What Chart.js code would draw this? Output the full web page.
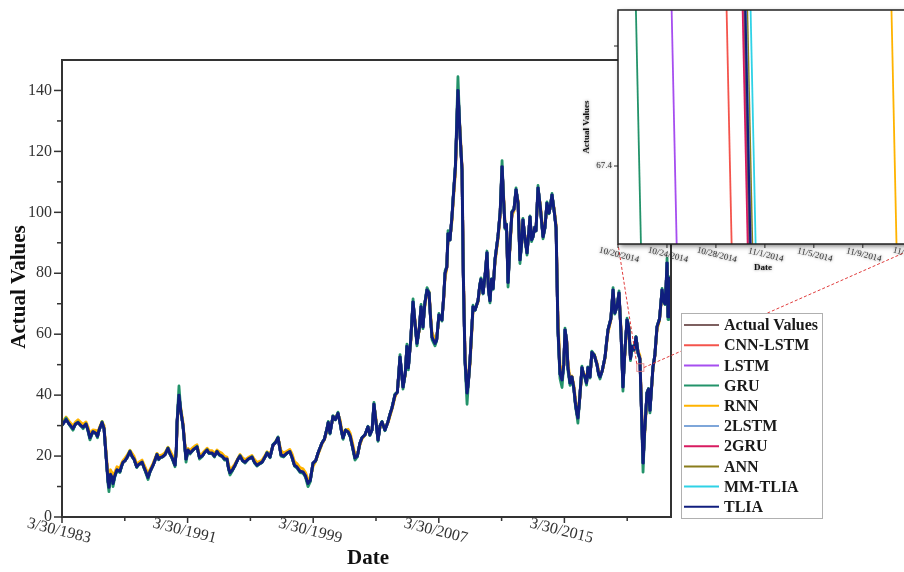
<!DOCTYPE html>
<html>
<head>
<meta charset="utf-8">
<script src="https://cdn.jsdelivr.net/npm/chart.js@4.4.1/dist/chart.umd.min.js"></script>
<style>
    html, body { margin: 0; padding: 0; background: #fff; overflow: hidden; }
    #stage { position: relative; width: 904px; height: 572px; overflow: hidden; }
    #mainChart { position: absolute; left: 0; top: 0; }
    #insetChart { position: absolute; left: 570px; top: 0; }
</style>
</head>
<body>
<div id="stage">
    <canvas id="mainChart" width="904" height="572"></canvas>
    <canvas id="insetChart" width="360" height="290"></canvas>
</div>
<script>
// Dates as decimal years (3/30/1983 = 1983.24)
const dates = [
    1983.25, 1983.5, 1983.7, 1983.94,
    1984.1, 1984.26, 1984.45, 1984.58, 1984.77, 1984.9,
    1985.02, 1985.21, 1985.4, 1985.5, 1985.6, 1985.79, 1985.92,
    1986.05, 1986.17, 1986.23, 1986.33, 1986.43, 1986.49, 1986.6, 1986.74, 1986.93,
    1987.05, 1987.13, 1987.25, 1987.38, 1987.57, 1987.7, 1987.83,
    1988.0, 1988.08, 1988.2, 1988.34, 1988.45, 1988.53, 1988.72, 1988.85,
    1989.04, 1989.15, 1989.29, 1989.4, 1989.48, 1989.65, 1989.8, 1989.99,
    1990.1, 1990.25, 1990.44, 1990.52, 1990.57, 1990.69, 1990.8, 1990.95,
    1991.05, 1991.14, 1991.27, 1991.4, 1991.58, 1991.7, 1991.84,
    1992.0, 1992.16, 1992.3, 1992.48, 1992.6, 1992.8, 1992.95,
    1993.11, 1993.25, 1993.43, 1993.6, 1993.75, 1993.85, 1993.94,
    1994.1, 1994.26, 1994.45, 1994.58, 1994.75, 1994.9,
    1995.1, 1995.34, 1995.5, 1995.66, 1995.8, 1995.98,
    1996.15, 1996.3, 1996.49, 1996.68, 1996.85,
    1997.0, 1997.19, 1997.35, 1997.57, 1997.75, 1997.89,
    1998.05, 1998.21, 1998.4, 1998.59, 1998.75, 1998.91,
    1999.05, 1999.23, 1999.4, 1999.55, 1999.7, 1999.8, 1999.95,
    2000.12, 2000.2, 2000.31, 2000.5, 2000.65, 2000.82, 2000.95,
    2001.05, 2001.14, 2001.3, 2001.46, 2001.6, 2001.75, 2001.9,
    2002.05, 2002.22, 2002.35, 2002.54, 2002.73, 2002.85, 2002.99,
    2003.11, 2003.2, 2003.37, 2003.5, 2003.62, 2003.81,
    2004.0, 2004.15, 2004.26, 2004.45, 2004.6, 2004.77, 2004.96,
    2005.1, 2005.21, 2005.3, 2005.45, 2005.6, 2005.72, 2005.85,
    2006.0, 2006.11, 2006.23, 2006.35, 2006.49, 2006.62, 2006.72, 2006.81,
    2007.0, 2007.1, 2007.25, 2007.44, 2007.55, 2007.64, 2007.75, 2007.83, 2007.95,
    2008.08, 2008.15, 2008.3, 2008.46, 2008.6, 2008.72, 2008.8, 2008.91,
    2009.04, 2009.12, 2009.23, 2009.42, 2009.55, 2009.74, 2009.85, 2009.93,
    2010.06, 2010.2, 2010.31, 2010.4, 2010.5, 2010.6, 2010.7, 2010.82,
    2011.01, 2011.15, 2011.27, 2011.36, 2011.46, 2011.55, 2011.65, 2011.78, 2011.9,
    2012.03, 2012.16, 2012.29, 2012.41, 2012.52, 2012.6, 2012.72, 2012.86,
    2013.05, 2013.15, 2013.24, 2013.35, 2013.43, 2013.56, 2013.7, 2013.88,
    2014.0, 2014.13, 2014.26, 2014.35, 2014.45, 2014.6, 2014.71, 2014.83, 2014.96,
    2015.09, 2015.2, 2015.28, 2015.38, 2015.47, 2015.6, 2015.72, 2015.85, 2015.95,
    2016.04, 2016.1, 2016.2, 2016.36, 2016.45, 2016.55, 2016.65, 2016.74, 2016.87, 2016.99,
    2017.15, 2017.32, 2017.42, 2017.51, 2017.65, 2017.83, 2017.92,
    2018.02, 2018.2, 2018.34, 2018.45, 2018.59, 2018.72, 2018.85, 2018.97,
    2019.1, 2019.23, 2019.35, 2019.45, 2019.55, 2019.68, 2019.8, 2019.93,
    2020.05, 2020.15, 2020.25, 2020.35, 2020.5, 2020.6, 2020.69, 2020.8, 2020.88,
    2021.0, 2021.14, 2021.3, 2021.46, 2021.55, 2021.65, 2021.72, 2021.78, 2021.84, 2021.9, 2021.97
];

const actualValues = [
    30.2, 32, 30.5, 29,
    30.5, 31, 30, 29.5, 30.5, 28.5,
    26, 28, 27.5, 26.5, 28.5, 31, 29,
    20, 12, 9.8, 14, 13, 11, 13.5, 15.5, 15,
    17, 18, 18.5, 19.5, 21.5, 20, 19,
    16.5, 17, 17.5, 18, 16.5, 15.5, 13, 15,
    17, 18.5, 20.5, 19, 19.5, 19.8, 20.5, 22.5,
    21, 19.5, 17, 22, 31, 40, 35, 30,
    24, 19, 22, 21, 22, 22.5, 23,
    19.5, 20, 21, 22, 21, 21, 20,
    21.5, 20.5, 20, 19, 19, 16, 14.5,
    15.5, 17, 19, 20, 18.5, 18,
    19, 19.7, 18, 17, 17.5, 18,
    19.5, 21, 19.7, 23.6, 24.5,
    26, 20.4, 20, 21, 21.5, 19.7,
    17, 16.4, 15, 14.8, 13.5, 11,
    12, 17.7, 18.5, 21, 23, 24.3, 25.5,
    29, 31, 27.6, 33, 32, 34, 31,
    28, 26, 28.5, 28, 26.5, 23, 19.4,
    20, 24.3, 26, 27, 29.6, 27, 28.6,
    37, 33, 25.3, 30, 31.2, 28.6,
    31.2, 34, 35.8, 40, 41, 52.5, 42.7,
    47, 56, 49, 58, 70.6, 64, 57,
    62, 69, 62.4, 70, 74.5, 73.5, 65, 59,
    57, 58, 66.3, 64.7, 72, 80, 82, 93, 91,
    98.5, 104, 115, 140, 125, 114, 80, 51.6,
    40.7, 44, 51.6, 69, 68, 71, 76, 78,
    73.5, 80, 86.7, 75, 71, 78, 75, 84.4,
    92, 100, 115, 105, 95, 96, 77, 90, 100,
    101, 107.4, 103, 84.4, 90, 97.5, 92, 86.7,
    98.5, 91, 92, 95, 94, 108, 102, 92,
    95, 103, 99.8, 102, 105.7, 100, 95, 62, 47,
    45, 50, 61.4, 58, 49, 44, 46, 42, 37,
    34, 32.5, 38, 49, 47, 46, 44, 49, 46, 54,
    53, 50, 47, 46, 48, 52.5, 57,
    61.4, 65, 74.5, 67, 69, 73.5, 60, 42.7,
    55, 64.7, 62, 52, 56, 55, 59, 54,
    52, 35, 17.7, 28, 40.7, 42, 35, 43, 49,
    53, 62.4, 65, 74.5, 71, 70, 76, 83.4, 65.7, 72, 78.8
];

const gruValues = [
    30, 32.5, 30.3, 28.5,
    30.5, 31.2, 29.8, 29, 30.6, 28,
    25.3, 28, 27.3, 26, 28.5, 31.3, 28.8,
    19.5, 11, 8.3, 13.5, 12.3, 10, 13, 15.3, 14.6,
    16.8, 17.9, 18.4, 19.5, 21.7, 19.8, 18.8,
    16.2, 16.8, 17.4, 18, 16.2, 15.2, 12.3, 14.8,
    16.9, 18.4, 20.6, 18.8, 19.4, 19.7, 20.5, 22.7,
    20.8, 19.2, 16.5, 22, 31.5, 43, 35.5, 29.5,
    23.5, 18, 21.8, 20.7, 21.9, 22.5, 23.2,
    19, 19.8, 21, 22.1, 20.8, 20.8, 19.7,
    21.6, 20.3, 19.8, 18.7, 18.8, 15.6, 13.8,
    15.2, 16.8, 19, 20.2, 18.3, 17.7,
    18.9, 19.8, 17.7, 16.7, 17.3, 17.9,
    19.4, 21.2, 19.4, 23.8, 24.7,
    26.3, 20, 19.7, 20.9, 21.5, 19.4,
    16.7, 16, 14.6, 14.4, 13, 10,
    11.5, 17.6, 18.4, 21, 23.1, 24.4, 25.6,
    29.2, 31.4, 27.2, 33.3, 31.8, 34.4, 30.7,
    27.7, 25.5, 28.6, 27.8, 26.2, 22.6, 18.7,
    19.7, 24.4, 26.1, 27, 29.8, 26.7, 28.6,
    37.6, 33, 24.8, 30, 31.4, 28.3,
    31.3, 34.2, 36, 40.4, 41, 53.3, 42,
    46.8, 56.7, 48.3, 58.2, 71.6, 63.5, 56.2,
    62, 69.8, 61.8, 70.3, 75.3, 73.8, 64.5, 58.2,
    56.2, 57.8, 66.8, 64.3, 72.3, 80.8, 82.3, 94, 90.8,
    98.8, 104.8, 116, 144.5, 125, 113.5, 79, 50.5,
    37, 43.5, 51.4, 69.5, 67.8, 71.2, 76.3, 78.5,
    73.2, 80.2, 87.3, 74.5, 70.3, 78.2, 74.7, 84.8,
    92.3, 100.5, 117, 104.6, 94.5, 96.2, 75.5, 90.2, 100.4,
    101.2, 108, 102.8, 83.2, 90, 98, 91.8, 86,
    98.8, 90.4, 91.8, 95.2, 93.8, 108.8, 101.7, 91.3,
    94.7, 103.4, 99.5, 102.2, 106.2, 99.8, 94.5, 60.5, 45.5,
    42.5, 50, 62, 57.7, 47.8, 43.2, 46, 41.3, 36.2,
    33.2, 30.8, 37.8, 49.5, 46.7, 45.6, 43.3, 49.3, 45.6, 54.4,
    53.2, 49.7, 46.5, 45.3, 48, 52.7, 57.3,
    61.7, 65.2, 75.3, 66.6, 69.2, 74.2, 59.5, 41.3,
    55, 65.3, 62, 51.3, 56.2, 54.6, 59.3, 53.6,
    51.7, 34, 14.7, 27.5, 41, 42.2, 34.2, 43, 49.3,
    53.2, 62.7, 65.2, 75, 70.7, 69.7, 76.5, 85, 64.8, 72.2, 79.3
];

const rnnValues = [
    31, 32.8, 31.4, 29.9,
    31.2, 31.9, 31, 30.4, 31.2, 29.5,
    27.2, 28.6, 28.4, 27.4, 29, 31.4, 30,
    21.5, 13.8, 12.5, 15.5, 14.5, 13, 14.6, 16.5, 16,
    17.8, 18.6, 19.3, 20.2, 21.9, 20.9, 19.9,
    17.4, 17.6, 18.2, 18.7, 17.4, 16.5, 14.2, 15.6,
    17.6, 19, 20.9, 20, 20.2, 20.5, 21.1, 22.9,
    22, 20.5, 18.2, 21, 29.5, 38.5, 36, 31,
    25, 20.3, 22.5, 21.9, 22.8, 23.3, 23.7,
    20.4, 20.7, 21.6, 22.6, 21.9, 21.8, 20.9,
    22, 21.4, 20.9, 19.9, 19.7, 17.2, 15.6,
    16.3, 17.5, 19.3, 20.5, 19.4, 18.8,
    19.5, 20.2, 18.9, 17.9, 18.2, 18.6,
    20, 21.4, 20.6, 23.4, 24.9,
    26.1, 21.8, 21, 21.6, 22.2, 20.8,
    18.2, 17.5, 16.2, 15.8, 14.6, 12.4,
    12.5, 16.5, 18.3, 20.5, 22.5, 23.9, 25.3,
    28.4, 30.5, 28.6, 32.4, 32.8, 33.7, 32,
    29, 27.2, 28.6, 28.8, 27.5, 24.3, 20.6,
    20.6, 23.7, 25.6, 26.9, 29.2, 27.9, 28.8,
    36, 34, 26.6, 29.4, 31, 29.3,
    30.8, 33.4, 35.3, 39.3, 41.3, 51, 44,
    46.2, 54.8, 50.5, 57, 69, 65, 58.5,
    61, 68, 63.7, 69, 74, 74, 66.5, 60.5,
    58.3, 58.4, 65, 65.5, 71, 78.5, 81.5, 91.2, 91.5,
    97, 102.5, 113, 137, 127, 115, 83, 54,
    42.5, 44.5, 50, 67.5, 68.3, 70.5, 75.2, 77.4,
    74.5, 79, 85.5, 76.5, 72.3, 77.2, 75.8, 83.3,
    91, 98.8, 113, 106.5, 96.5, 95.8, 79, 88.6, 99,
    100.5, 106.3, 104, 86, 89.3, 96.6, 92.6, 87.5,
    97.6, 92, 92.2, 94.6, 94.4, 106.5, 103, 93.4,
    95.6, 102, 100.5, 101.6, 105, 101, 96, 66, 50,
    47, 49.4, 60, 58.6, 50.5, 45.2, 46.3, 43, 38.6,
    35.5, 34, 37.5, 48, 47.5, 46.6, 45, 48.3, 46.6, 53,
    53.4, 50.6, 48, 46.8, 47.7, 52, 56.3,
    60.5, 64.5, 73.3, 68, 68.8, 72.8, 61.8, 45,
    53.5, 63.5, 62.6, 53.4, 55.5, 55.4, 58.5, 54.6,
    53, 37.5, 20.5, 26.5, 39.5, 42, 36.2, 42.3, 48.4,
    52.6, 61.4, 64.6, 73.5, 71.6, 70.4, 75.2, 81.8, 67.3, 71.6, 78
];

const seriesNames = ['Actual Values', 'CNN-LSTM', 'LSTM', 'GRU', 'RNN', '2LSTM', '2GRU', 'ANN', 'MM-TLIA', 'TLIA'];
const seriesColors = ['#7d6060', '#f4544c', '#a64ef0', '#23936a', '#ffb300', '#7ea6d9', '#d81b60', '#8a7d1c', '#2fd2e6', '#101e7e'];
// the other models sit exactly under the TLIA line in the main plot
const seriesValues = [actualValues, actualValues, actualValues, gruValues, rnnValues, actualValues, actualValues, actualValues, actualValues, actualValues];
const drawOrder = [9, 5, 4, 1, 2, 6, 7, 8, 3, 0];

const xTickValues = [1983.24, 1991.24, 1999.24, 2007.24, 2015.24];
const xTickLabels = ['3/30/1983', '3/30/1991', '3/30/1999', '3/30/2007', '3/30/2015'];
const xMinorTicks = [1987.24, 1995.24, 2003.24, 2011.24, 2019.24];
const yTickValues = [0, 20, 40, 60, 80, 100, 120, 140];
const yMinorTicks = [10, 30, 50, 70, 90, 110, 130];

// inset: days after 10/20/2014 where each model's line enters the zoom window
const insetStartDay = [9.83, 8.41, 3.92, 1.0, 21.88, 9.99, 9.72, 10.1, 10.37, 9.94];
const insetLevels = [68.1, 67.15];
const insetTickDays = [0, 4, 8, 12, 16, 20, 24];
const insetTickLabels = ['10/20/2014', '10/24/2014', '10/28/2014', '11/1/2014', '11/5/2014', '11/9/2014', '11/13/2014'];
const insetYTicks = [67.4];
const insetYMinor = [67.6];

// zoomed region on the main chart (years, values)
const zoomBox = { x0: 2019.85, x1: 2020.3, y0: 47.8, y1: 50.3 };

const SERIF = "'Liberation Serif', 'Times New Roman', serif";

function strokeLine(ctx, x1, y1, x2, y2) {
    ctx.beginPath();
    ctx.moveTo(x1, y1);
    ctx.lineTo(x2, y2);
    ctx.stroke();
}

// Main chart decorations
const mainDecor = {
    id: 'mainDecor',
    afterDatasetsDraw(chart) {
        const { ctx, chartArea: a, scales: { x, y } } = chart;
        ctx.save();

        // frame
        ctx.strokeStyle = '#333';
        ctx.lineWidth = 2;
        ctx.strokeRect(a.left, a.top, a.right - a.left, a.bottom - a.top);

        // y ticks
        ctx.lineWidth = 1.5;
        yTickValues.forEach(v => strokeLine(ctx, a.left - 8, y.getPixelForValue(v), a.left, y.getPixelForValue(v)));
        yMinorTicks.forEach(v => strokeLine(ctx, a.left - 5, y.getPixelForValue(v), a.left, y.getPixelForValue(v)));

        ctx.fillStyle = '#333';
        ctx.font = '16px ' + SERIF;
        ctx.textAlign = 'right';
        ctx.textBaseline = 'middle';
        yTickValues.forEach(v => ctx.fillText(String(v), a.left - 10, y.getPixelForValue(v)));

        // x ticks
        xTickValues.forEach(v => strokeLine(ctx, x.getPixelForValue(v), a.bottom, x.getPixelForValue(v), a.bottom + 6));
        xMinorTicks.forEach(v => strokeLine(ctx, x.getPixelForValue(v), a.bottom, x.getPixelForValue(v), a.bottom + 4));

        ctx.textAlign = 'center';
        xTickValues.forEach((v, i) => {
            ctx.save();
            ctx.translate(x.getPixelForValue(v) - 3, a.bottom + 14);
            ctx.rotate(14 * Math.PI / 180);
            ctx.fillText(xTickLabels[i], 0, 0);
            ctx.restore();
        });

        // axis titles
        ctx.fillStyle = '#111';
        ctx.font = 'bold 21px ' + SERIF;
        ctx.fillText('Date', 368, 559);
        ctx.save();
        ctx.translate(20, 287);
        ctx.rotate(-Math.PI / 2);
        ctx.fillText('Actual Values', 0, 0);
        ctx.restore();

        // zoom box and connector lines
        const bx0 = x.getPixelForValue(zoomBox.x0), bx1 = x.getPixelForValue(zoomBox.x1);
        const by0 = y.getPixelForValue(zoomBox.y1), by1 = y.getPixelForValue(zoomBox.y0);
        ctx.strokeStyle = 'rgba(230, 120, 120, 0.8)';
        ctx.lineWidth = 1;
        ctx.strokeRect(bx0, by0, bx1 - bx0, by1 - by0);
        ctx.strokeStyle = '#e03c3c';
        ctx.setLineDash([3, 2]);
        strokeLine(ctx, bx0, by0, 618, 244);
        strokeLine(ctx, bx1, (by0 + by1) / 2, 924, 244);
        ctx.setLineDash([]);

        // legend
        const lx = 681, ly = 313, lw = 141, lh = 205;
        ctx.fillStyle = '#fff';
        ctx.fillRect(lx, ly, lw, lh);
        ctx.strokeStyle = '#b0b0b0';
        ctx.lineWidth = 1;
        ctx.strokeRect(lx + 0.5, ly + 0.5, lw, lh);
        ctx.font = 'bold 16px ' + SERIF;
        ctx.textAlign = 'left';
        ctx.textBaseline = 'middle';
        seriesNames.forEach((name, i) => {
            const ry = 325 + i * 20.2;
            ctx.strokeStyle = seriesColors[i];
            ctx.lineWidth = 2;
            strokeLine(ctx, 684, ry, 719, ry);
            ctx.fillStyle = '#1a1a1a';
            ctx.fillText(name, 724, ry + 1);
        });

        ctx.restore();
    }
};

new Chart(document.getElementById('mainChart'), {
    type: 'line',
    data: {
        datasets: seriesNames.map((name, i) => ({
            label: name,
            data: dates.map((d, j) => ({ x: d, y: seriesValues[i][j] })),
            borderColor: seriesColors[i],
            borderWidth: i === 9 ? 3 : 2.8,
            borderJoinStyle: 'round',
            pointRadius: 0,
            tension: 0,
            order: drawOrder[i]
        }))
    },
    options: {
        responsive: false,
        animation: false,
        layout: { padding: { left: 62, right: 233, top: 60, bottom: 55 } },
        plugins: { legend: { display: false }, tooltip: { enabled: false } },
        scales: {
            x: { type: 'linear', min: 1983.24, max: 2022.03, display: false },
            y: { min: 0, max: 150, display: false }
        }
    },
    plugins: [mainDecor]
});

// Inset chart decorations
const insetDecor = {
    id: 'insetDecor',
    beforeDatasetsDraw(chart) {
        const { ctx, chartArea: a } = chart;
        ctx.save();
        ctx.shadowColor = 'rgba(0, 0, 0, 0.55)';
        ctx.shadowBlur = 5;
        ctx.shadowOffsetX = 2;
        ctx.shadowOffsetY = 2;
        ctx.fillStyle = '#fff';
        ctx.fillRect(a.left, a.top, a.right - a.left, a.bottom - a.top);
        ctx.restore();
    },
    afterDatasetsDraw(chart) {
        const { ctx, chartArea: a, scales: { x, y } } = chart;
        ctx.save();
        ctx.strokeStyle = '#222';
        ctx.lineWidth = 1.5;
        ctx.strokeRect(a.left, a.top, a.right - a.left, a.bottom - a.top);

        ctx.lineWidth = 1;
        insetTickDays.forEach(d => strokeLine(ctx, x.getPixelForValue(d), a.bottom, x.getPixelForValue(d), a.bottom + 4));
        insetYTicks.concat(insetYMinor).forEach(v => strokeLine(ctx, a.left - 4, y.getPixelForValue(v), a.left, y.getPixelForValue(v)));

        ctx.shadowColor = 'rgba(0, 0, 0, 0.5)';
        ctx.shadowBlur = 3;
        ctx.fillStyle = '#333';
        ctx.font = '9px ' + SERIF;
        ctx.textAlign = 'right';
        ctx.textBaseline = 'middle';
        insetYTicks.forEach(v => ctx.fillText(v.toFixed(1), a.left - 6, y.getPixelForValue(v)));

        ctx.textAlign = 'center';
        insetTickDays.forEach((d, i) => {
            ctx.save();
            ctx.translate(x.getPixelForValue(d) + 1, a.bottom + 11);
            ctx.rotate(14 * Math.PI / 180);
            ctx.fillText(insetTickLabels[i], 0, 0);
            ctx.restore();
        });

        ctx.fillStyle = '#111';
        ctx.font = 'bold 9px ' + SERIF;
        ctx.fillText('Date', 193, 268);
        ctx.save();
        ctx.translate(17, 127);
        ctx.rotate(-Math.PI / 2);
        ctx.fillText('Actual Values', 0, 0);
        ctx.restore();

        ctx.restore();
    }
};

new Chart(document.getElementById('insetChart'), {
    type: 'line',
    data: {
        datasets: seriesNames.map((name, i) => ({
            label: name,
            data: insetLevels.map((v, k) => ({ x: insetStartDay[i] + k, y: v })),
            borderColor: seriesColors[i],
            borderWidth: i === 9 ? 2.2 : 1.8,
            pointRadius: 0,
            tension: 0,
            order: drawOrder[i]
        }))
    },
    options: {
        responsive: false,
        animation: false,
        layout: { padding: { left: 48, right: 6, top: 10, bottom: 46 } },
        plugins: { legend: { display: false }, tooltip: { enabled: false } },
        scales: {
            x: { type: 'linear', min: 0, max: 25, display: false },
            y: { min: 67.27, max: 67.66, display: false }
        }
    },
    plugins: [insetDecor]
});
</script>
</body>
</html>
